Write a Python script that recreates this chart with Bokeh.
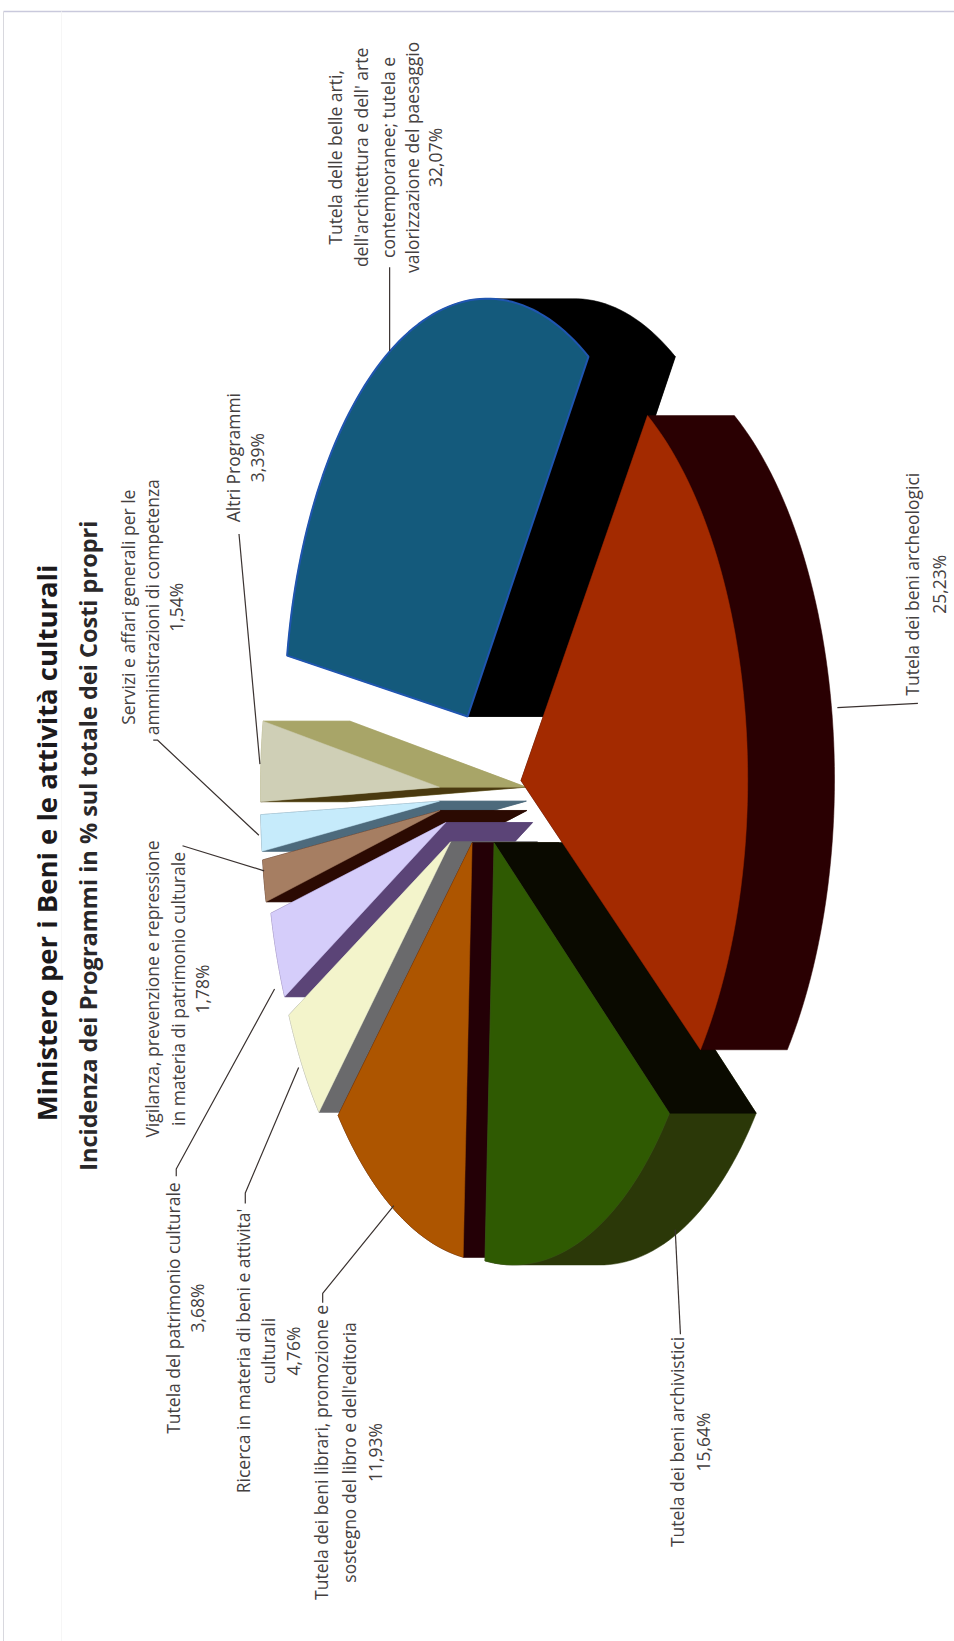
import math
from bokeh.plotting import figure
from bokeh.embed import file_html
from bokeh.resources import INLINE
from bokeh.core.properties import value
from bokeh.models import ColumnDataSource

# ---------- data ----------
programmi = ["Tutela delle belle arti, dell'architettura e dell' arte contemporanee; tutela e valorizzazione del paesaggio",
             "Tutela dei beni archeologici", "Tutela dei beni archivistici",
             "Tutela dei beni librari, promozione e sostegno del libro e dell'editoria",
             "Ricerca in materia di beni e attivita' culturali", "Tutela del patrimonio culturale",
             "Vigilanza, prevenzione e repressione in materia di patrimonio culturale",
             "Servizi e affari generali per le amministrazioni di competenza", "Altri Programmi"]
percentuali = [32.07, 25.23, 15.64, 11.93, 4.76, 3.68, 1.78, 1.54, 3.39]
esplosione = [0.20, 0.19, 0.13, 0.13, 0.20, 0.20, 0.22, 0.22, 0.22]

titolo = "Ministero  per i Beni e le attività culturali"
sottotitolo = "Incidenza dei Programmi in % sul totale dei Costi propri"

face_col = ["#145a7c", "#a32a00", "#2f5a02", "#ad5500", "#f3f4cb", "#d5cdfa", "#a67e62", "#c6ebfb", "#cfcfb6"]
face_line = ["#1f55b0", "#a32a00", "#3c5c1a", "#ad5500", "#f3f4d8", "#d5cdfa", "#a67e62", "#c6ebfb", "#cfcfb6"]
wall_arc = ["#000000", "#2a0002", "#2b3808", "#240006", "#6a6a6c", "#5b4477", "#2b0a02", "#4d6a7c", "#a8a568"]
wall_start = ["#000000", "#2a0002", "#0a0a00", "#240006", "#6a6a6c", "#5b4477", "#2b0a02", "#4d6a7c", "#4a3a10"]
wall_end = ["#000000", "#2a0002", "#0a0a00", "#240006", "#6a6a6c", "#5b4477", "#2b0a02", "#4d6a7c", "#a8a568"]

# ---------- layout (px of the reduced reference, scaled up) ----------
S = 954 / 912
CX, CY = 461 * S, 758 * S
RX, RY = 192 * S, 400 * S
K = 0.084
DEPTH = 83 * S
START_DEG = 190.0


def proj(X, Y):
    s = 1 / (1 - K * X)
    return CX + RX * X * s, CY + RY * Y * s


def wedge(a0, a1, e):
    mid = math.radians((a0 + a1) / 2)
    ex, ey = e * math.cos(mid), e * math.sin(mid)
    pts = [proj(ex, ey)]
    n = max(8, int((a1 - a0) / 1.5))
    for i in range(n + 1):
        t = math.radians(a0 + (a1 - a0) * i / n)
        pts.append(proj(ex + math.cos(t), ey + math.sin(t)))
    return pts


def sweep(pts, d):
    m = len(pts)
    top = min(range(m), key=lambda i: pts[i][1])
    bot = max(range(m), key=lambda i: pts[i][1])
    a, i = [], top
    while True:
        a.append(pts[i])
        if i == bot:
            break
        i = (i + 1) % m
    b, i = [], top
    while True:
        b.append(pts[i])
        if i == bot:
            break
        i = (i - 1) % m
    mean = lambda c: sum(q[0] for q in c) / len(c)
    left, right = (a, b) if mean(a) < mean(b) else (b, a)
    poly = left + [(q[0] + d, q[1]) for q in reversed(right)]
    return [q[0] for q in poly], [q[1] for q in poly]


def faces_right(A, C, O):
    nx, ny = -(C[1] - A[1]), C[0] - A[0]
    if nx * (O[0] - A[0]) + ny * (O[1] - A[1]) > 0:
        nx = -nx
    return nx > 0


p = figure(width=954, height=1641, x_range=(0, 954), y_range=(1641, 0),
           output_backend="svg", toolbar_location=None, min_border=0)
p.axis.visible = False
p.grid.visible = False
p.outline_line_color = None
p.background_fill_color = "#ffffff"

# scan frame
p.line([3, 954], [11, 11], line_color="#c9c9dc", line_width=1.5)
p.line([3, 3], [11, 1641], line_color="#d8d8de", line_width=1)
p.line([61, 61], [11, 1641], line_color="#f6f6f6", line_width=1)

# wedges, back to front
angles, acc = [], START_DEG
for v in percentuali:
    angles.append((acc, acc + v * 3.6))
    acc += v * 3.6

for i in [8, 7, 6, 5, 4, 3, 2, 0, 1]:
    a0, a1 = angles[i]
    pts = wedge(a0, a1, esplosione[i])
    wx, wy = sweep(pts, DEPTH)
    p.patch(wx, wy, fill_color=wall_arc[i], line_color=wall_arc[i], line_width=0.5)
    A, C0, C1 = pts[0], pts[1], pts[-1]
    for C, O, col in ((C0, C1, wall_start[i]), (C1, C0, wall_end[i])):
        if faces_right(A, C, O):
            p.patch([A[0], C[0], C[0] + DEPTH, A[0] + DEPTH], [A[1], C[1], C[1], A[1]],
                    fill_color=col, line_color=col, line_width=0.5)
    p.patch([q[0] for q in pts], [q[1] for q in pts], fill_color=face_col[i],
            line_color=face_line[i], line_width=2 if i == 0 else 0.5)

# leaders (reduced px)
leaders = [
    [(372, 335), (372, 255)],
    [(800, 676), (877, 672)],
    [(645, 1175), (650, 1275)],
    [(376, 1152), (308, 1236), (308, 1245)],
    [(285, 1020), (234, 1140), (234, 1150)],
    [(262, 945), (168, 1117), (168, 1124)],
    [(252, 832), (174, 808)],
    [(247, 798), (150, 707), (146, 707)],
    [(248, 730), (228, 510)],
]
for l in leaders:
    p.line([q[0] * S for q in l], [q[1] * S for q in l], line_color="#3a3230", line_width=1.2)

# labels: (x of each line, y centre, lines)
labels = [
    ((320, 345, 370, 393, 415), 150, ["Tutela delle belle arti,", "dell'architettura e dell' arte",
                                      "contemporanee; tutela e", "valorizzazione del paesaggio", "32,07%"]),
    ((871, 897), 558, ["Tutela dei beni archeologici", "25,23%"]),
    ((647, 672), 1378, ["Tutela dei beni archivistici", "15,64%"]),
    ((306, 333, 358), 1388, ["Tutela dei beni librari, promozione e", "sostegno del libro e dell'editoria", "11,93%"]),
    ((232, 256, 280), 1291, ["Ricerca in materia di beni e attivita'", "culturali", "4,76%"]),
    ((165, 188), 1250, ["Tutela del patrimonio culturale", "3,68%"]),
    ((145, 170, 193), 945, ["Vigilanza, prevenzione e repressione", "in materia di patrimonio culturale", "1,78%"]),
    ((122, 145, 168), 580, ["Servizi e affari generali per le", "amministrazioni di competenza", "1,54%"]),
    ((222, 245), 437, ["Altri Programmi", "3,39%"]),
]
tx, ty, tt = [], [], []
for xs, yc, lines in labels:
    for x, s in zip(xs, lines):
        tx.append(x * S)
        ty.append(yc * S)
        tt.append(s)
p.text(x="x", y="y", text="t", source=ColumnDataSource(dict(x=tx, y=ty, t=tt)), angle=math.pi / 2,
       text_font=value("Open Sans"), text_font_size="17.5px", text_color="#44403f",
       text_align="center", text_baseline="middle")

p.text(x=[44 * S], y=[802 * S], text=[titolo], angle=math.pi / 2, text_font=value("Open Sans"),
       text_font_size="27.5px", text_font_style="bold", text_color="#1c1a1c",
       text_align="center", text_baseline="middle")
p.text(x=[84 * S], y=[808 * S], text=[sottotitolo], angle=math.pi / 2, text_font=value("Open Sans"),
       text_font_size="23.5px", text_font_style="bold", text_color="#2a282a",
       text_align="center", text_baseline="middle")

open("out.html", "w").write(file_html(p, INLINE))
